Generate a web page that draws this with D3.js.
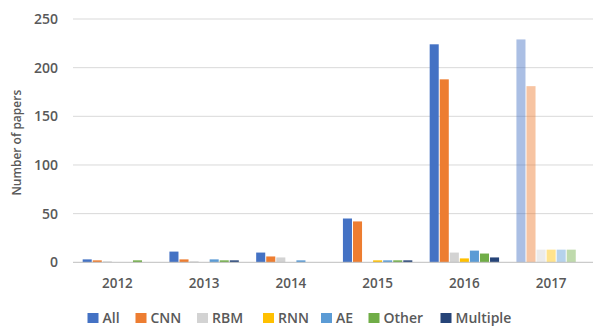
<!DOCTYPE html>
<html><head><meta charset="utf-8">
<script src="https://cdn.jsdelivr.net/npm/d3@7/dist/d3.min.js"></script>
<style>
body{margin:0;background:#fff;}
text{font-family:"Open Sans","Liberation Sans",sans-serif;fill:#595959;}
</style></head>
<body><svg id="c" width="594" height="326"></svg>
<script>
const years = ["2012","2013","2014","2015","2016","2017"];
const seriesNames = ["All","CNN","RBM","RNN","AE","Other","Multiple"];
const seriesColors = ["#4472C4","#ED7D31","#D3D3D3","#FFC000","#5B9BD5","#70AD47","#264478"];
const allVals      = [3, 11, 10, 45, 224, 229];
const cnnVals      = [2, 3, 6, 42, 188, 181];
const rbmVals      = [1, 1, 5, 0, 10, 13];
const rnnVals      = [0, 0, 0, 2, 4, 13];
const aeVals       = [0, 3, 2, 2, 12, 13];
const otherVals    = [2, 2, 0, 2, 9, 13];
const multipleVals = [0, 2, 0, 2, 5, 0];
const yTicks = [0, 50, 100, 150, 200, 250];
const fadedYear = "2017";

const seriesVals = [allVals, cnnVals, rbmVals, rnnVals, aeVals, otherVals, multipleVals];
const svg = d3.select("#c");
const pLeft = 74, pRight = 594.5, pTop = 19, pBottom = 262.3;

const x0 = d3.scaleBand().domain(years).range([pLeft, pRight]).paddingInner(0.2).paddingOuter(0.1);
const x1 = d3.scaleBand().domain(seriesNames).range([0, x0.bandwidth()]).paddingInner(0.1);
const y = d3.scaleLinear().domain([0, 250]).range([pBottom, pTop]);

// gridlines
svg.append("g").selectAll("line").data(yTicks.filter(d => d > 0)).join("line")
  .attr("x1", pLeft - 1).attr("x2", 593)
  .attr("y1", d => y(d)).attr("y2", d => y(d))
  .attr("stroke", "#d9d9d9").attr("stroke-width", 1);

// bars
const data = [];
years.forEach((yr, i) => seriesNames.forEach((s, j) => data.push({yr, s, j, v: seriesVals[j][i]})));
svg.append("g").selectAll("rect").data(data.filter(d => d.v > 0)).join("rect")
  .attr("x", d => x0(d.yr) + x1(d.s))
  .attr("width", x1.bandwidth())
  .attr("y", d => y(d.v))
  .attr("height", d => y(0) - y(d.v))
  .attr("fill", d => seriesColors[d.j])
  .attr("fill-opacity", d => d.yr === fadedYear ? 0.45 : 1);

// baseline
svg.append("line").attr("x1", pLeft - 1).attr("x2", 593)
  .attr("y1", y(0)).attr("y2", y(0)).attr("stroke", "#bfbfbf").attr("stroke-width", 1);

// y axis labels
const yAxis = d3.axisLeft(y).tickValues(yTicks).tickSize(0).tickPadding(0);
const yg = svg.append("g").attr("transform", `translate(${pLeft - 16},0)`).call(yAxis);
yg.select(".domain").remove();
yg.selectAll("text").attr("font-size", 14).attr("font-weight", 600)
  .style("font-family", '"Open Sans",sans-serif').attr("fill", "#595959");

// x axis labels
const xAxis = d3.axisBottom(x0).tickSize(0).tickPadding(0);
const xg = svg.append("g").attr("transform", `translate(0,${pBottom + 16})`).call(xAxis);
xg.select(".domain").remove();
xg.selectAll("text").attr("font-size", 13.5).attr("font-weight", 600)
  .style("font-family", '"Open Sans",sans-serif').attr("fill", "#595959");

// y title
svg.append("text").attr("transform", `translate(21,${(pTop + pBottom) / 2 + 2}) rotate(-90)`)
  .attr("text-anchor", "middle").attr("font-size", 12).attr("font-weight", 600)
  .text("Number of papers");

// legend
const legX = [87.5, 135.5, 197, 263, 321, 368.5, 440.5];
const lg = svg.append("g");
seriesNames.forEach((s, j) => {
  lg.append("rect").attr("x", legX[j]).attr("y", 313).attr("width", 11).attr("height", 10)
    .attr("fill", seriesColors[j]);
  lg.append("text").attr("x", legX[j] + 15).attr("y", 318).attr("dy", "0.36em")
    .attr("font-size", 14).attr("font-weight", 600).text(s);
});
</script></body></html>
